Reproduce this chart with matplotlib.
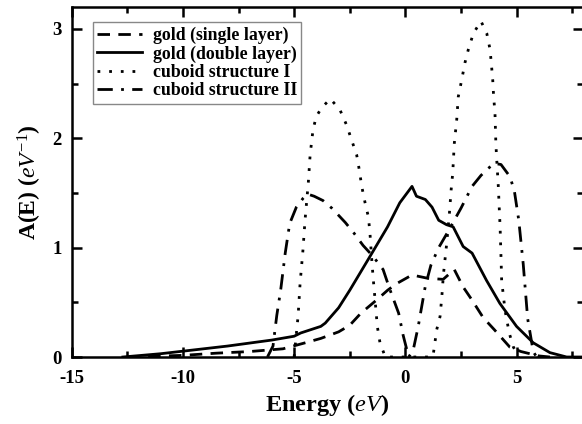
import matplotlib
matplotlib.use("Agg")
import matplotlib.pyplot as plt
from matplotlib.ticker import MultipleLocator

plt.rcParams['font.family'] = ['Liberation Serif', 'DejaVu Serif']
plt.rcParams['mathtext.fontset'] = 'custom'
plt.rcParams['mathtext.it'] = 'Liberation Serif:italic'
plt.rcParams['mathtext.rm'] = 'Liberation Serif'

# gold (single layer)
x_single = [-12.5, -10, -8.5, -7, -5.5, -4.5, -3.8, -3.0, -2.5, -2.0, -1.3, -0.8, -0.4, 0.3, 1.0, 1.7, 2.2, 2.6, 3.0, 3.5, 4.0, 4.7, 5.2, 6.0, 6.5]
y_single = [0, 0.015, 0.035, 0.05, 0.075, 0.13, 0.17, 0.23, 0.29, 0.40, 0.52, 0.61, 0.67, 0.75, 0.72, 0.71, 0.80, 0.64, 0.52, 0.36, 0.25, 0.09, 0.05, 0.01, 0]

# gold (double layer)
x_double = [-12.7, -11, -9.5, -8, -6, -5, -4.7, -3.8, -3.6, -3.0, -2.5, -1.5, -0.8, -0.25, 0.3, 0.5, 0.9, 1.2, 1.5, 1.85, 2.15, 2.6, 3.0, 3.65, 4.25, 5.0, 5.75, 6.5, 7.25, 8]
y_double = [0, 0.03, 0.065, 0.1, 0.155, 0.19, 0.22, 0.28, 0.31, 0.45, 0.61, 0.95, 1.19, 1.41, 1.56, 1.47, 1.44, 1.37, 1.25, 1.21, 1.19, 1.01, 0.95, 0.70, 0.49, 0.28, 0.13, 0.04, 0.0, 0.0]

# cuboid structure I
x_cub1 = [-5.0, -4.82, -4.73, -4.61, -4.51, -4.36, -4.28, -4.15, -4.0, -3.76, -3.37, -2.94, -2.64, -2.41, -2.19, -2.07, -1.96, -1.81, -1.66, -1.59, -1.51, -1.45, -1.36, -1.26, -1.14, -0.9,
          0.0, 1.2, 1.26, 1.41, 1.56, 1.64, 1.71, 1.86, 1.98, 2.06, 2.13, 2.2, 2.31, 2.38, 2.53, 2.68, 2.83, 3.06, 3.40, 3.66, 3.81, 3.88, 3.93, 3.97, 4.03, 4.07, 4.11, 4.18, 4.22, 4.26, 4.3, 4.33, 4.48, 4.67, 4.86, 5.1]
y_cub1 = [0, 0.38, 0.68, 0.96, 1.25, 1.6, 1.85, 2.08, 2.2, 2.28, 2.36, 2.26, 2.12, 1.98, 1.85, 1.71, 1.56, 1.41, 1.28, 1.13, 0.89, 0.73, 0.52, 0.28, 0.13, 0,
          0, 0, 0.03, 0.25, 0.37, 0.55, 0.75, 1.04, 1.31, 1.53, 1.68, 1.95, 2.17, 2.38, 2.53, 2.69, 2.81, 2.96, 3.07, 2.96, 2.81, 2.65, 2.53, 2.38, 2.23, 1.95, 1.80, 1.56, 1.37, 1.19, 0.92, 0.70, 0.43, 0.22, 0.09, 0]

# cuboid structure II
x_cub2 = [-6.2, -5.95, -5.78, -5.6, -5.4, -5.2, -4.9, -4.6, -4.4, -4.1, -3.7, -3.3, -2.7, -2.3, -1.9, -1.45, -1.0, -0.7, -0.3, -0.1, 0.15, 0.35, 0.58, 0.7, 0.9, 1.15, 1.5, 1.9, 2.5, 3.0, 3.4, 3.7, 4.0, 4.3, 4.7, 4.9, 5.1, 5.3, 5.5, 5.75, 5.9]
y_cub2 = [0, 0.1, 0.38, 0.62, 0.95, 1.22, 1.37, 1.45, 1.49, 1.47, 1.43, 1.36, 1.23, 1.13, 1.02, 0.92, 0.80, 0.62, 0.40, 0.2, 0.0, 0.06, 0.28, 0.42, 0.65, 0.84, 1.0, 1.14, 1.36, 1.56, 1.66, 1.72, 1.77, 1.76, 1.65, 1.52, 1.25, 0.85, 0.35, 0.05, 0]

labels = ['gold (single layer)', 'gold (double layer)', 'cuboid structure I', 'cuboid structure II']
x_ticks = [-15, -10, -5, 0, 5]
y_ticks = [0, 1, 2, 3]

fig = plt.figure(figsize=(5.82, 4.24), dpi=100)
ax = fig.add_axes([0.1232, 0.158, 0.879, 0.8255])

lw = 2.0
ax.plot(x_single, y_single, color='black', lw=lw, linestyle=(0, (4.5, 3)), label=labels[0])
ax.plot(x_double, y_double, color='black', lw=lw, linestyle='-', label=labels[1])
ax.plot(x_cub1, y_cub1, color='black', lw=lw, linestyle=(0, (1, 3.2)), label=labels[2])
ax.plot(x_cub2, y_cub2, color='black', lw=lw, linestyle=(0, (5.5, 3, 1, 3)), label=labels[3])

ax.set_xlim(-15, 8)
ax.set_ylim(0, 3.2)
ax.set_xticks(x_ticks)
ax.set_xticklabels([str(t) for t in x_ticks])
ax.set_yticks(y_ticks)
ax.set_yticklabels([str(t) for t in y_ticks])
ax.xaxis.set_minor_locator(MultipleLocator(2.5))
ax.yaxis.set_minor_locator(MultipleLocator(0.5))
ax.tick_params(which='both', direction='in', top=True, right=True, width=1.8)
ax.tick_params(which='major', length=7, labelsize=13.5)
ax.tick_params(axis='x', which='major', pad=9)
ax.tick_params(axis='y', which='major', pad=7)
ax.tick_params(which='minor', length=4)
for lab in ax.get_xticklabels() + ax.get_yticklabels():
    lab.set_fontweight('bold')
for s in ax.spines.values():
    s.set_linewidth(1.8)

ax.set_xlabel(r'Energy ($eV$)', fontsize=17.5, fontweight='bold', labelpad=4)
ax.set_ylabel(r'A(E) ($eV^{-1}$)', fontsize=17, fontweight='bold', labelpad=6)

leg = ax.legend(loc='upper left', bbox_to_anchor=(0.0416, 0.957), borderaxespad=0,
                frameon=True, fancybox=False, edgecolor='#888888', framealpha=1,
                prop={'family': 'Liberation Serif', 'weight': 'bold', 'size': 12.8},
                handlelength=2.5, handletextpad=0.6, labelspacing=0.08, borderpad=0.25)
leg.get_frame().set_linewidth(1.0)

fig.savefig('out.png', dpi=100)
